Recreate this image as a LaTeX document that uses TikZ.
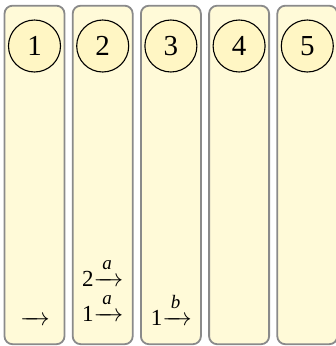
\documentclass[tikz,border=0pt]{standalone}
\usepackage{fontspec}
\usepackage{amsmath}
\setmainfont{Liberation Serif}
\definecolor{colfill}{HTML}{FFFAD8}
\definecolor{colborder}{HTML}{8A8A8A}
\definecolor{circfill}{HTML}{FFF6C4}
\newcommand{\arrowlab}[1]{\ensuremath{\xrightarrow{\makebox[0.7em]{\raisebox{2pt}{\fontsize{19}{20}\selectfont\itshape #1}}}}}
\newcommand{\lab}[2]{#1\arrowlab{#2}}
\begin{document}
\begin{tikzpicture}[x=1pt,y=-1pt,
  column/.style={draw=colborder,line width=1.8pt,fill=colfill,rounded corners=8pt},
  state/.style={circle,draw=black,line width=1.1pt,fill=circfill,minimum size=52pt,inner sep=0pt,font=\fontsize{29}{34}\selectfont},
  lbl/.style={anchor=base,inner sep=0pt,font=\fontsize{23}{27}\selectfont}]
\useasboundingbox (0,0) rectangle (336,346);
\foreach \i in {1,...,5}{
  \pgfmathsetmacro{\xl}{4.5+68.2*(\i-1)}
  \draw[column] (\xl,5.7) rectangle ++(60,338.5);
}
\foreach \i in {1,...,5}{
  \node[state] (s\i) at ({34.5+68.2*(\i-1)},46) {\i};
}
\node[lbl] (t1) at (35,325) {\arrowlab{}};
\node[lbl] (t2a) at (102.7,286) {\lab{2}{a}};
\node[lbl] (t2b) at (102.7,321) {\lab{1}{a}};
\node[lbl] (t3) at (171.3,325) {\lab{1}{b}};
\end{tikzpicture}
\end{document}
